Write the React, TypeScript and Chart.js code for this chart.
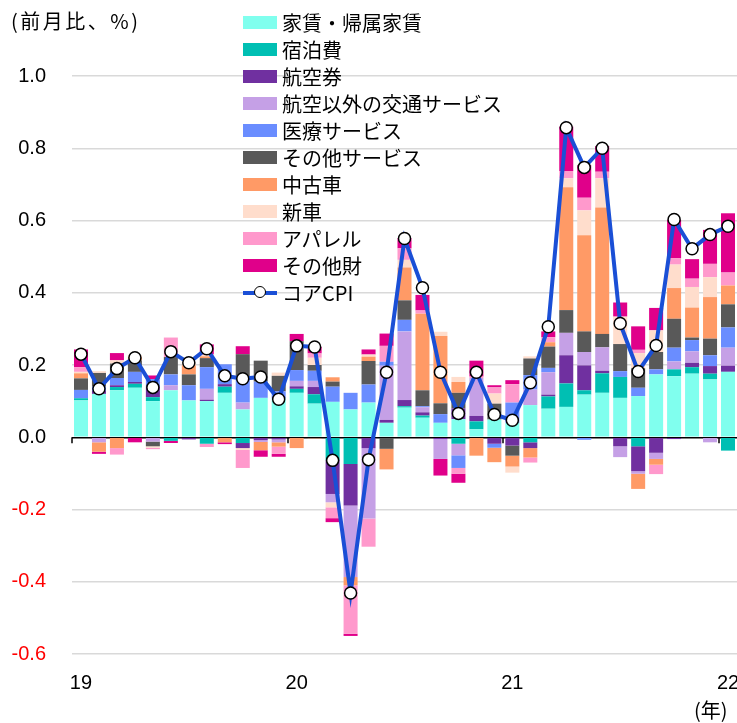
import React, { useEffect, useRef } from 'react';
import { Chart, registerables } from 'chart.js';

Chart.register(...registerables);

const categories = [
  '19/01', '19/02', '19/03', '19/04', '19/05', '19/06', '19/07', '19/08', '19/09', '19/10', '19/11', '19/12',
  '20/01', '20/02', '20/03', '20/04', '20/05', '20/06', '20/07', '20/08', '20/09', '20/10', '20/11', '20/12',
  '21/01', '21/02', '21/03', '21/04', '21/05', '21/06', '21/07', '21/08', '21/09', '21/10', '21/11', '21/12',
  '22/01',
];

const yTickFormat = (v: number) => v.toFixed(1);

const rent = [.102, .12, .13, .137, .10, .13, .102, .10, .123, .077, .109, .107, .123, .093, .098, .077, .096, .04, .082, .054, .04, .05, .022, .049, .04, .089, .079, .084, .118, .123, .109, .114, .174, .169, .176, .16, .181];
const hotel = [.006, 0, .009, .011, .011, -.01, 0, -.018, .017, -.016, 0, 0, .011, .026, -.063, -.074, 0, 0, .004, .006, 0, -.018, .022, 0, 0, -.014, .034, .065, .012, .054, .058, -.025, 0, .019, .018, .016, -.037];
const airfare = [0, .008, .005, .005, .03, 0, -.006, .004, .007, -.014, -.008, -.006, .007, .02, -.094, -.115, -.03, .008, .017, .009, -.005, .03, .015, -.018, -.023, -.016, .005, .078, .069, .007, -.025, -.069, -.043, -.005, .012, .021, .017];
const otherTransport = [0, -.014, 0, 0, -.012, .014, 0, .03, 0, .019, -.005, -.008, .015, .017, -.023, -.198, -.195, .15, .19, .014, -.055, -.032, .105, 0, 0, .043, .062, .062, .037, .065, -.03, -.007, -.017, .022, .032, -.014, .05];
const medical = [.023, .012, .02, .028, .02, .03, .042, .06, .055, .071, .045, .02, .03, .028, .042, .046, .05, .011, .032, .003, .024, -.035, 0, -.011, .056, .04, .012, 0, -.007, 0, .016, .023, .014, .038, .031, .03, .056];
const otherServices = [.032, .038, .04, .032, -.013, .048, .03, .025, 0, .063, .058, .043, .08, .016, .014, 0, .065, -.032, .054, .044, .03, .043, 0, .044, -.028, .046, .059, .063, .057, .037, .075, .054, .048, .08, .007, .046, .064];
const usedCars = [.014, -.026, -.03, .008, 0, 0, .025, .005, -.014, 0, -.023, -.012, -.03, -.003, .012, -.023, .012, -.057, .091, .212, .186, .03, -.051, -.04, -.03, -.026, .012, .34, .266, .35, 0, -.042, -.016, .085, .083, .115, .052];
const newCars = [.004, .005, .009, .006, -.004, 0, .006, .005, 0, -.005, 0, .009, 0, .02, -.014, 0, .006, 0, .021, 0, .012, .014, 0, .028, -.017, .006, 0, .025, .069, .081, .076, .042, .06, .065, .057, .055, 0];
const apparel = [.013, 0, -.018, 0, -.004, .054, 0, -.009, 0, -.05, 0, -.02, 0, .012, -.03, -.134, -.078, .044, .032, .009, 0, -.016, .004, .017, .051, -.014, .014, .02, .035, .018, 0, .009, -.026, .018, .023, .037, .036];
const otherGoods = [.049, -.006, .02, -.014, .01, -.006, 0, .028, -.005, .022, -.018, -.008, .02, .018, -.011, -.006, .014, .034, .028, .043, -.046, -.025, .044, .006, .011, 0, .016, .123, .09, .071, .039, .065, .062, .106, .054, .094, .164];
const coreCPI = [.23, .134, .19, .22, .138, .237, .206, .245, .17, .162, .167, .105, .253, .25, -.064, -.431, -.062, .18, .55, .414, .18, .066, .18, .063, .047, .151, .306, .857, .747, .80, .315, .182, .254, .603, .522, .561, .584];

const barNames = ['家賃・帰属家賃', '宿泊費', '航空券', '航空以外の交通サービス', '医療サービス', 'その他サービス', '中古車', '新車', 'アパレル', 'その他財'];
const barSeries = [rent, hotel, airfare, otherTransport, medical, otherServices, usedCars, newCars, apparel, otherGoods];
const barColors = ['#80FFEE', '#00BFB3', '#7030A0', '#C5A0E6', '#6A8DFF', '#595959', '#FF9A66', '#FFDDCC', '#FF99CC', '#E0008A'];
const lineName = 'コアCPI';
const lineColor = '#1A4FD6';

const CJK = '"Noto Sans CJK JP", "Noto Sans", sans-serif';
const NUM = '"Liberation Sans", Arial, sans-serif';

export default function App() {
  const ref = useRef<HTMLCanvasElement>(null);

  useEffect(() => {
    if (!ref.current) return;
    const yearTickPlugin = {
      id: 'yearTicks',
      beforeDatasetsDraw(chart: any) {
        const x = chart.scales.x;
        const y = chart.scales.y;
        const ctx = chart.ctx;
        const y0 = y.getPixelForValue(0);
        const half = (x.getPixelForValue(1) - x.getPixelForValue(0)) / 2;
        ctx.save();
        ctx.strokeStyle = '#000';
        ctx.lineWidth = 1.5;
        categories.forEach((c, i) => {
          if (c.endsWith('/01')) {
            const px = Math.round(x.getPixelForValue(i) - half);
            ctx.beginPath();
            ctx.moveTo(px, y0);
            ctx.lineTo(px, y0 + 6);
            ctx.stroke();
          }
        });
        ctx.restore();
      },
    };

    const datasets: any[] = barSeries.map((data, i) => ({
      type: 'bar',
      label: barNames[i],
      data,
      backgroundColor: barColors[i],
      borderWidth: 0,
      barPercentage: 0.78,
      categoryPercentage: 1.0,
      stack: 'bars',
      order: 1,
    }));
    datasets.push({
      type: 'line',
      label: lineName,
      data: coreCPI,
      borderColor: lineColor,
      borderWidth: 4,
      pointRadius: 6,
      pointBackgroundColor: '#fff',
      pointBorderColor: '#000',
      pointBorderWidth: 1.5,
      tension: 0,
      stack: 'line',
      order: 0,
      clip: 10,
    });

    const chart = new Chart(ref.current, {
      type: 'bar',
      data: { labels: categories, datasets },
      options: {
        responsive: false,
        animation: false,
        layout: { autoPadding: false, padding: { top: 76, right: 0, bottom: 0, left: 0 } },
        plugins: { legend: { display: false }, tooltip: { enabled: false } },
        scales: {
          x: {
            type: 'category',
            stacked: true,
            offset: true,
            grid: { display: false },
            border: { display: false },
            ticks: {
              autoSkip: false,
              maxRotation: 0,
              minRotation: 0,
              padding: 9,
              color: '#000',
              font: { family: NUM, size: 20 },
              callback: (_v: any, i: number) => (categories[i].endsWith('/01') ? categories[i].slice(0, 2) : ''),
            },
            afterFit: (s: any) => {
              s.height = 69;
              s.paddingLeft = 0;
              s.paddingRight = 0;
            },
          },
          y: {
            stacked: true,
            min: -0.6,
            max: 1.0,
            border: { display: false },
            grid: {
              drawTicks: false,
              color: (c: any) => (c.tick && Math.abs(c.tick.value) < 1e-9 ? '#000' : '#D9D9D9'),
              lineWidth: 1.5,
            },
            ticks: {
              stepSize: 0.2,
              padding: 26,
              font: { family: NUM, size: 20 },
              color: (c: any) => (c.tick && c.tick.value < -1e-9 ? '#FF0000' : '#000'),
              callback: (v: any) => yTickFormat(Number(v)),
            },
            afterFit: (s: any) => {
              s.width = 72;
              s.paddingTop = 0;
              s.paddingBottom = 0;
            },
          },
        },
      },
      plugins: [yearTickPlugin],
    } as any);
    return () => chart.destroy();
  }, []);

  const legendItems = barNames.map((n, i) => (
    <div key={n} style={{ display: 'flex', alignItems: 'center', height: 27 }}>
      <div style={{ width: 34, height: 13, background: barColors[i], marginRight: 5 }} />
      <span>{n}</span>
    </div>
  ));

  return (
    <div style={{ position: 'absolute', left: 0, top: 0, width: 737, height: 723, background: '#fff', overflow: 'hidden' }}>
      <canvas ref={ref} width={737} height={723} style={{ display: 'block' }} />
      <div style={{ position: 'absolute', left: 11, top: 8, fontFamily: CJK, fontSize: 20, lineHeight: '26px', letterSpacing: '2.5px', color: '#000' }}>
        (前月比、%)
      </div>
      <div style={{ position: 'absolute', left: 243, top: 9, fontFamily: CJK, fontSize: 20, color: '#000', lineHeight: '27px' }}>
        {legendItems}
        <div style={{ display: 'flex', alignItems: 'center', height: 27 }}>
          <div style={{ position: 'relative', width: 34, height: 13, marginRight: 5 }}>
            <div style={{ position: 'absolute', left: 0, right: 0, top: 5, height: 3.5, background: lineColor }} />
            <div style={{ position: 'absolute', left: 11, top: 0, width: 10, height: 10, borderRadius: '50%', background: '#fff', border: '1.5px solid #000' }} />
          </div>
          <span>{lineName}</span>
        </div>
      </div>
      <div style={{ position: 'absolute', left: 694, top: 697, fontFamily: CJK, fontSize: 20, lineHeight: '26px', color: '#000' }}>
        (年)
      </div>
    </div>
  );
}
